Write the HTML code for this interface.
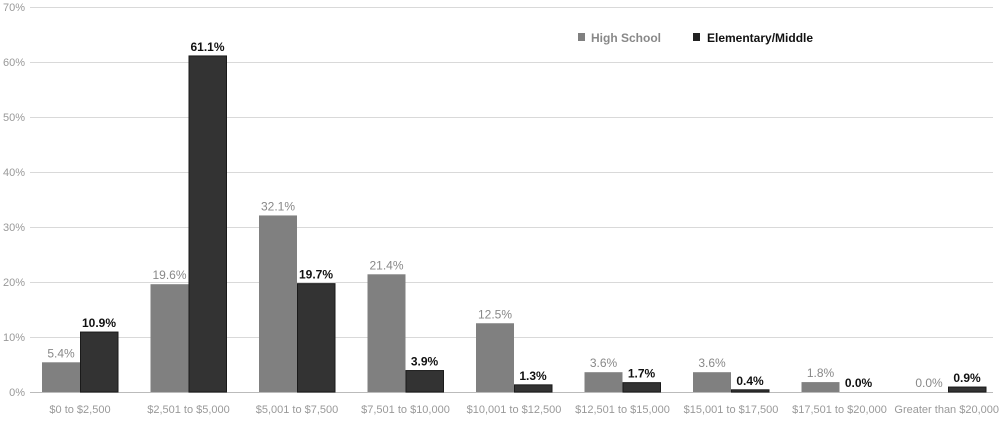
<!DOCTYPE html>
<html><head><style>body{margin:0;background:#fff}</style></head><body>
<svg width="1000" height="416" xmlns="http://www.w3.org/2000/svg" font-family="Liberation Sans, sans-serif">
<g stroke="#d9d9d9" stroke-width="1">
<line x1="30" x2="993" y1="7.5" y2="7.5"/><line x1="30" x2="993" y1="62.5" y2="62.5"/>
<line x1="30" x2="993" y1="117.5" y2="117.5"/><line x1="30" x2="993" y1="172.5" y2="172.5"/>
<line x1="30" x2="993" y1="227.5" y2="227.5"/><line x1="30" x2="993" y1="282.5" y2="282.5"/>
<line x1="30" x2="993" y1="337.5" y2="337.5"/><line x1="30" x2="993" y1="392.5" y2="392.5" stroke="#bbb"/>
</g>
<g font-size="11" fill="#999" text-anchor="end">
<text x="25" y="11">70%</text><text x="25" y="66">60%</text><text x="25" y="121">50%</text>
<text x="25" y="176">40%</text><text x="25" y="231">30%</text><text x="25" y="286">20%</text>
<text x="25" y="341">10%</text><text x="25" y="396">0%</text>
</g>
<g fill="#808080">
<rect x="42" y="362.3" width="38" height="29.7"/>
<rect x="150.5" y="284.2" width="38" height="107.8"/>
<rect x="259" y="215.45" width="38" height="176.55"/>
<rect x="367.5" y="274.3" width="38" height="117.7"/>
<rect x="476" y="323.25" width="38" height="68.75"/>
<rect x="584.5" y="372.2" width="38" height="19.8"/>
<rect x="693" y="372.2" width="38" height="19.8"/>
<rect x="801.5" y="382.1" width="38" height="9.9"/>
</g>
<g fill="#333" stroke="#1a1a1a" stroke-width="1">
<rect x="80.5" y="332.05" width="37.5" height="59.95"/>
<rect x="189" y="55.95" width="37.5" height="336.05"/>
<rect x="297.5" y="283.65" width="37.5" height="108.35"/>
<rect x="406" y="370.55" width="37.5" height="21.45"/>
<rect x="514.5" y="384.85" width="37.5" height="7.15"/>
<rect x="623" y="382.65" width="37.5" height="9.35"/>
<rect x="731.5" y="389.8" width="37.5" height="2.2"/>
<rect x="948.5" y="387.05" width="37.5" height="4.95"/>
</g>
<g font-size="12" fill="#888" text-anchor="middle">
<text x="61" y="357.3">5.4%</text>
<text x="169.5" y="279.2">19.6%</text>
<text x="278" y="210.45">32.1%</text>
<text x="386.5" y="269.3">21.4%</text>
<text x="495" y="318.25">12.5%</text>
<text x="603.5" y="367.2">3.6%</text>
<text x="712" y="367.2">3.6%</text>
<text x="820.5" y="377.1">1.8%</text>
<text x="929" y="387">0.0%</text>
</g>
<g font-size="12" font-weight="bold" fill="#111" text-anchor="middle">
<text x="99" y="327.05">10.9%</text>
<text x="207.5" y="50.95">61.1%</text>
<text x="316" y="278.65">19.7%</text>
<text x="424.5" y="365.55">3.9%</text>
<text x="533" y="379.85">1.3%</text>
<text x="641.5" y="377.65">1.7%</text>
<text x="750" y="384.8">0.4%</text>
<text x="858.5" y="387">0.0%</text>
<text x="967" y="382.05">0.9%</text>
</g>
<g font-size="11" fill="#999" text-anchor="middle">
<text x="80" y="413">$0 to $2,500</text>
<text x="188.5" y="413">$2,501 to $5,000</text>
<text x="297" y="413">$5,001 to $7,500</text>
<text x="405.5" y="413">$7,501 to $10,000</text>
<text x="514" y="413">$10,001 to $12,500</text>
<text x="622.5" y="413">$12,501 to $15,000</text>
<text x="731" y="413">$15,001 to $17,500</text>
<text x="839.5" y="413">$17,501 to $20,000</text>
<text x="999" y="413" text-anchor="end">Greater than $20,000</text>
</g>
<rect x="578" y="33" width="7" height="8" fill="#808080"/>
<text x="591" y="42" font-size="12" font-weight="bold" fill="#888">High School</text>
<rect x="693" y="33" width="7" height="8" fill="#222"/>
<text x="707" y="42" font-size="12" font-weight="bold" fill="#111">Elementary/Middle</text>
</svg>
</body></html>
